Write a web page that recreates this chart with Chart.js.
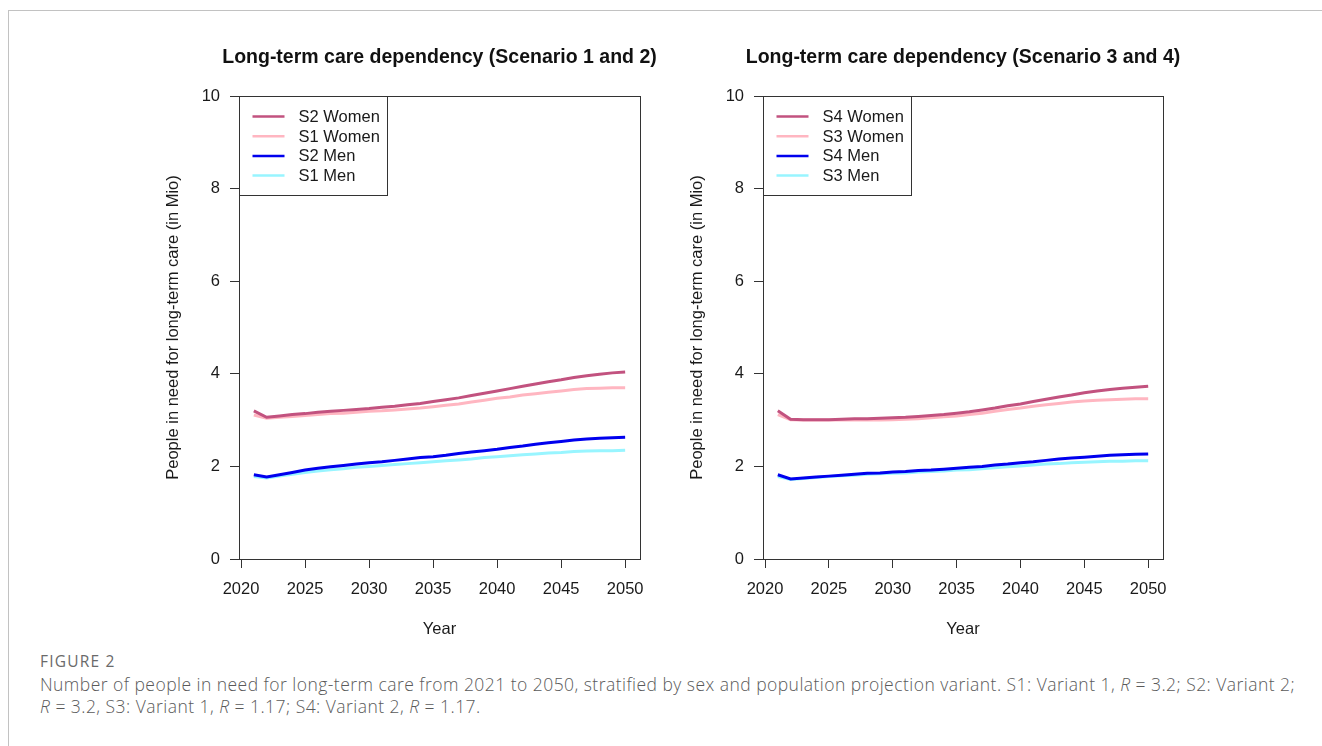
<!DOCTYPE html>
<html>
<head>
<meta charset="utf-8">
<script src="https://cdn.jsdelivr.net/npm/chart.js@4.4.1/dist/chart.umd.min.js"></script>
<style>
  html, body { margin: 0; padding: 0; background: #fff; }
  body { width: 1322px; height: 746px; position: relative; overflow: hidden; }
  #frame { position: absolute; left: 8px; top: 10px; right: -2px; bottom: -2px;
           border-top: 1px solid #c2c2c2; border-left: 1px solid #c2c2c2; }
  canvas { position: absolute; top: 0; }
  #c1 { left: 0; }
  #c2 { left: 661px; }
  #caption { position: absolute; left: 40px; top: 651px; color: #5a5a5a;
             font-family: "Open Sans", "Noto Sans", sans-serif; white-space: nowrap; }
  #caption .fig { font-size: 15.5px; line-height: 21px; color: #6a6a6a; letter-spacing: 1.2px; }
  #caption .txt { font-size: 17.5px; line-height: 22px; margin-top: 1px; font-weight: 300;
                  letter-spacing: 0.46px; }
</style>
</head>
<body>
<div id="frame"></div>
<canvas id="c1" width="661" height="650"></canvas>
<canvas id="c2" width="661" height="650"></canvas>
<div id="caption">
  <div class="fig">FIGURE 2</div>
  <div class="txt">Number of people in need for long-term care from 2021 to 2050, stratified by sex and population projection variant. S1: Variant 1, <i>R</i> = 3.2; S2: Variant 2;<br><i>R</i> = 3.2, S3: Variant 1, <i>R</i> = 1.17; S4: Variant 2, <i>R</i> = 1.17.</div>
</div>
<script>
// Projection years and axis ticks
const years = [2021, 2022, 2023, 2024, 2025, 2026, 2027, 2028, 2029, 2030,
               2031, 2032, 2033, 2034, 2035, 2036, 2037, 2038, 2039, 2040,
               2041, 2042, 2043, 2044, 2045, 2046, 2047, 2048, 2049, 2050];
const xTicks = [2020, 2025, 2030, 2035, 2040, 2045, 2050];
const yTicks = [0, 2, 4, 6, 8, 10];

// People in need for long-term care (millions), scenarios 1 and 2
const s2Women = [3.20, 3.06, 3.09, 3.12, 3.14, 3.17, 3.19, 3.21, 3.23, 3.25,
                 3.28, 3.30, 3.33, 3.36, 3.40, 3.44, 3.48, 3.53, 3.58, 3.63,
                 3.68, 3.73, 3.78, 3.83, 3.87, 3.92, 3.96, 3.99, 4.02, 4.04];
const s1Women = [3.11, 3.04, 3.06, 3.08, 3.10, 3.12, 3.14, 3.15, 3.17, 3.19,
                 3.20, 3.22, 3.24, 3.26, 3.29, 3.32, 3.35, 3.39, 3.43, 3.47,
                 3.50, 3.54, 3.57, 3.60, 3.63, 3.66, 3.68, 3.69, 3.70, 3.70];
const s2Men   = [1.82, 1.77, 1.82, 1.87, 1.92, 1.96, 1.99, 2.02, 2.05, 2.08,
                 2.10, 2.13, 2.16, 2.19, 2.21, 2.24, 2.28, 2.31, 2.34, 2.37,
                 2.41, 2.44, 2.48, 2.51, 2.54, 2.57, 2.59, 2.61, 2.62, 2.63];
const s1Men   = [1.78, 1.75, 1.79, 1.83, 1.87, 1.90, 1.93, 1.95, 1.98, 2.00,
                 2.02, 2.04, 2.06, 2.08, 2.10, 2.12, 2.14, 2.16, 2.19, 2.21,
                 2.23, 2.25, 2.27, 2.29, 2.30, 2.32, 2.33, 2.34, 2.34, 2.35];

// Scenarios 3 and 4
const s4Women = [3.20, 3.02, 3.01, 3.01, 3.01, 3.02, 3.03, 3.03, 3.04, 3.05,
                 3.06, 3.08, 3.10, 3.12, 3.15, 3.18, 3.22, 3.26, 3.31, 3.35,
                 3.40, 3.45, 3.50, 3.54, 3.59, 3.63, 3.66, 3.69, 3.71, 3.73];
const s3Women = [3.12, 3.01, 3.00, 3.00, 3.00, 3.00, 3.00, 3.00, 3.00, 3.01,
                 3.02, 3.03, 3.05, 3.07, 3.09, 3.12, 3.15, 3.19, 3.23, 3.26,
                 3.30, 3.33, 3.36, 3.39, 3.41, 3.43, 3.44, 3.45, 3.46, 3.46];
const s4Men   = [1.82, 1.73, 1.75, 1.77, 1.79, 1.81, 1.83, 1.85, 1.86, 1.88,
                 1.89, 1.91, 1.92, 1.94, 1.96, 1.98, 2.00, 2.03, 2.05, 2.08,
                 2.10, 2.13, 2.16, 2.18, 2.20, 2.22, 2.24, 2.25, 2.26, 2.27];
const s3Men   = [1.78, 1.72, 1.74, 1.76, 1.78, 1.80, 1.81, 1.83, 1.84, 1.85,
                 1.86, 1.88, 1.89, 1.90, 1.92, 1.93, 1.95, 1.97, 1.99, 2.01,
                 2.03, 2.05, 2.06, 2.08, 2.09, 2.10, 2.11, 2.11, 2.12, 2.12];

const COLORS = { womenHigh: '#c2527f', womenLow: '#ffb6c1', menHigh: '#0000ee', menLow: '#98f5ff' };
const FONT = '"Liberation Sans", Arial, Helvetica, sans-serif';
const INK = '#1a1a1a';
const TEXT_SIZE = 16.5;

// Panel title centred over the plotting region
const panelTitle = {
  id: 'panelTitle',
  afterDraw(chart, args, opts) {
    const { ctx, chartArea } = chart;
    ctx.save();
    ctx.font = 'bold 19.5px ' + FONT;
    ctx.fillStyle = '#111';
    ctx.textAlign = 'center';
    ctx.textBaseline = 'middle';
    ctx.fillText(opts.text, (chartArea.left + chartArea.right) / 2, 58);
    ctx.restore();
  }
};

// Closed box around the plotting region
const plotBox = {
  id: 'plotBox',
  afterDatasetsDraw(chart) {
    const { ctx, chartArea: a } = chart;
    ctx.save();
    ctx.strokeStyle = '#333';
    ctx.lineWidth = 1;
    const l = Math.round(a.left) + 0.5, t = Math.round(a.top) + 0.5;
    const r = Math.round(a.right) + 0.5, b = Math.round(a.bottom) + 0.5;
    ctx.strokeRect(l, t, r - l, b - t);
    ctx.restore();
  }
};

// Boxed legend in the top-left corner of the plotting region
const boxLegend = {
  id: 'boxLegend',
  afterDraw(chart) {
    const { ctx, chartArea: a } = chart;
    const l = Math.round(a.left) + 0.5, t = Math.round(a.top) + 0.5;
    const w = 148, h = 99;
    ctx.save();
    ctx.fillStyle = '#fff';
    ctx.fillRect(l, t, w, h);
    ctx.strokeStyle = '#333';
    ctx.lineWidth = 1;
    ctx.strokeRect(l, t, w, h);
    ctx.font = TEXT_SIZE + 'px ' + FONT;
    ctx.textBaseline = 'middle';
    ctx.textAlign = 'left';
    chart.data.datasets.forEach((ds, i) => {
      const y = t + 20 + i * 19.7;
      ctx.strokeStyle = ds.borderColor;
      ctx.lineWidth = 2.5;
      ctx.beginPath();
      ctx.moveTo(l + 13, y);
      ctx.lineTo(l + 45, y);
      ctx.stroke();
      ctx.fillStyle = INK;
      ctx.fillText(ds.label, l + 59, y + 1);
    });
    ctx.restore();
  }
};

function makeChart(id, title, series, padLeft, padRight) {
  return new Chart(document.getElementById(id), {
    type: 'line',
    data: {
      datasets: series.map(s => ({
        label: s.label,
        data: years.map((yr, i) => ({ x: yr, y: s.values[i] })),
        borderColor: s.color,
        borderWidth: 3,
        pointRadius: 0,
        tension: 0,
        fill: false
      }))
    },
    options: {
      responsive: false,
      animation: false,
      devicePixelRatio: 1,
      layout: { padding: { left: padLeft, right: padRight, top: 96, bottom: 11 } },
      plugins: {
        legend: { display: false },
        tooltip: { enabled: false },
        panelTitle: { text: title }
      },
      scales: {
        x: {
          type: 'linear',
          min: 2019.84,
          max: 2051.16,
          afterBuildTicks: s => { s.ticks = xTicks.map(v => ({ value: v })); },
          afterFit: s => { s.height = 80; },
          grid: { drawOnChartArea: false, drawTicks: true, tickLength: 9, color: '#333' },
          border: { display: true, color: '#333' },
          ticks: { padding: 12, autoSkip: false, maxRotation: 0, color: INK,
                   callback: v => String(v),
                   font: { size: TEXT_SIZE, family: FONT } },
          title: { display: true, text: 'Year', padding: 0, color: INK,
                   font: { size: TEXT_SIZE, family: FONT } }
        },
        y: {
          min: 0,
          max: 10,
          afterBuildTicks: s => { s.ticks = yTicks.map(v => ({ value: v })); },
          afterFit: s => { s.width = 75; },
          grid: { drawOnChartArea: false, drawTicks: true, tickLength: 9, color: '#333' },
          border: { display: true, color: '#333' },
          ticks: { padding: 10, color: INK, callback: v => String(v),
                   font: { size: TEXT_SIZE, family: FONT } },
          title: { display: true, text: 'People in need for long-term care (in Mio)', padding: 0,
                   color: INK, font: { size: TEXT_SIZE, family: FONT } }
        }
      }
    },
    plugins: [panelTitle, plotBox, boxLegend]
  });
}

makeChart('c1', 'Long-term care dependency (Scenario 1 and 2)', [
  { label: 'S2 Women', values: s2Women, color: COLORS.womenHigh },
  { label: 'S1 Women', values: s1Women, color: COLORS.womenLow },
  { label: 'S2 Men',   values: s2Men,   color: COLORS.menHigh },
  { label: 'S1 Men',   values: s1Men,   color: COLORS.menLow }
], 164, 21);

makeChart('c2', 'Long-term care dependency (Scenario 3 and 4)', [
  { label: 'S4 Women', values: s4Women, color: COLORS.womenHigh },
  { label: 'S3 Women', values: s3Women, color: COLORS.womenLow },
  { label: 'S4 Men',   values: s4Men,   color: COLORS.menHigh },
  { label: 'S3 Men',   values: s3Men,   color: COLORS.menLow }
], 27, 159);
</script>
</body>
</html>
